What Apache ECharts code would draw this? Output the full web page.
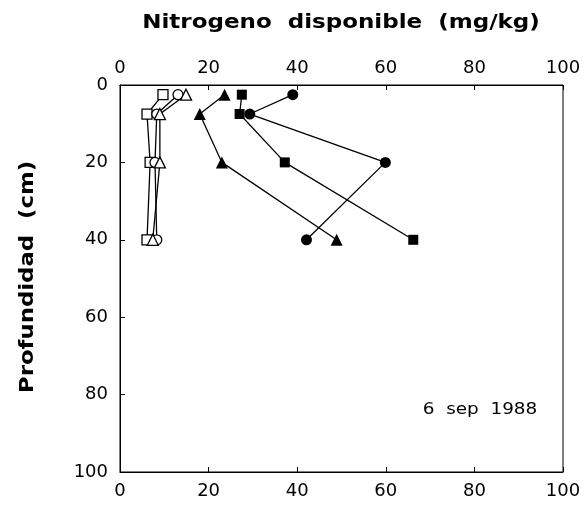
<!DOCTYPE html>
<html>
<head>
<meta charset="utf-8">
<title>Nitrogeno disponible</title>
<script src="https://cdn.jsdelivr.net/npm/echarts@6/dist/echarts.min.js"></script>
<style>
    html, body { margin: 0; padding: 0; background: #fff; }
    #chart { width: 588px; height: 511px; }
</style>
</head>
<body>
<div id="chart"></div>
<script>
// profundidad de muestreo (cm)
const depths = [2.5, 7.5, 20, 40];
const xTicks = [0, 20, 40, 60, 80, 100];
const yTicks = [0, 20, 40, 60, 80, 100];

// nitrogeno disponible (mg/kg) por serie
const filledCircle = [39.0, 29.3, 59.9, 42.1];
const filledSquare = [27.5, 27.0, 37.2, 66.2];
const filledTriangle = [23.6, 18.0, 23.0, 48.9];
const openSquare = [9.7, 6.1, 6.8, 6.1];
const openCircle = [13.1, 8.3, 7.9, 8.3];
const openTriangle = [14.9, 9.0, 9.0, 7.4];

const chart = echarts.init(document.getElementById('chart'));

const pairs = xs => xs.map((x, i) => [x, depths[i]]);

function makeSeries(name, xs, symbol, size, filled) {
    return {
        name: name,
        type: 'line',
        xAxisIndex: 0,
        yAxisIndex: 0,
        data: pairs(xs),
        symbol: symbol,
        symbolSize: size,
        showAllSymbol: true,
        lineStyle: { color: '#000', width: 1.3 },
        itemStyle: filled
            ? { color: '#000', borderColor: '#000', borderWidth: 0 }
            : { color: '#fff', borderColor: '#000', borderWidth: 1.3 },
        emphasis: { disabled: true },
        animation: false
    };
}

const tickFont = {
    color: '#000',
    fontFamily: 'DejaVu Sans',
    fontSize: 18
};

const valueAxis = (position, margin) => ({
    type: 'value',
    position: position,
    min: xTicks[0],
    max: xTicks[xTicks.length - 1],
    interval: 20,
    axisLine: { show: true, lineStyle: { color: '#000', width: 1 } },
    axisTick: { show: true, inside: true, length: 5, lineStyle: { color: '#000' } },
    axisLabel: Object.assign({ margin: margin }, tickFont),
    splitLine: { show: false }
});

chart.setOption({
    backgroundColor: '#fff',
    animation: false,
    grid: {
        left: 120,
        right: 25,
        top: 85,
        bottom: 39,
        show: true,
        borderColor: '#000',
        borderWidth: 1
    },
    xAxis: [
        valueAxis('top', 8),
        valueAxis('bottom', 10)
    ],
    yAxis: {
        type: 'value',
        inverse: true,
        min: yTicks[0],
        max: yTicks[yTicks.length - 1],
        interval: 20,
        axisLine: { show: true, lineStyle: { color: '#000', width: 1 } },
        axisTick: { show: true, inside: true, length: 5, lineStyle: { color: '#000' } },
        axisLabel: Object.assign({ margin: 12 }, tickFont),
        splitLine: { show: false }
    },
    graphic: [
        {
            type: 'text',
            x: 341,
            y: 23,
            scaleX: 1.15,
            style: {
                text: 'Nitrogeno  disponible  (mg/kg)',
                fontFamily: 'DejaVu Sans',
                fontWeight: 'bold',
                fontSize: 20,
                fill: '#000',
                align: 'center',
                verticalAlign: 'middle'
            }
        },
        {
            type: 'text',
            x: 28,
            y: 277,
            rotation: Math.PI / 2,
            scaleX: 1.14,
            style: {
                text: 'Profundidad  (cm)',
                fontFamily: 'DejaVu Sans',
                fontWeight: 'bold',
                fontSize: 20,
                fill: '#000',
                align: 'center',
                verticalAlign: 'middle'
            }
        },
        {
            type: 'text',
            x: 480,
            y: 410,
            scaleX: 1.15,
            style: {
                text: '6  sep  1988',
                fontFamily: 'DejaVu Sans',
                fontSize: 16,
                fill: '#000',
                align: 'center',
                verticalAlign: 'middle'
            }
        }
    ],
    series: [
        makeSeries('open square', openSquare, 'rect', 10, false),
        makeSeries('open circle', openCircle, 'circle', 10, false),
        makeSeries('open triangle', openTriangle, 'triangle', 11, false),
        makeSeries('filled triangle', filledTriangle, 'triangle', 12, true),
        makeSeries('filled square', filledSquare, 'rect', 10, true),
        makeSeries('filled circle', filledCircle, 'circle', 11, true)
    ]
});

window.addEventListener('resize', function () {
    chart.resize();
});
</script>
</body>
</html>
